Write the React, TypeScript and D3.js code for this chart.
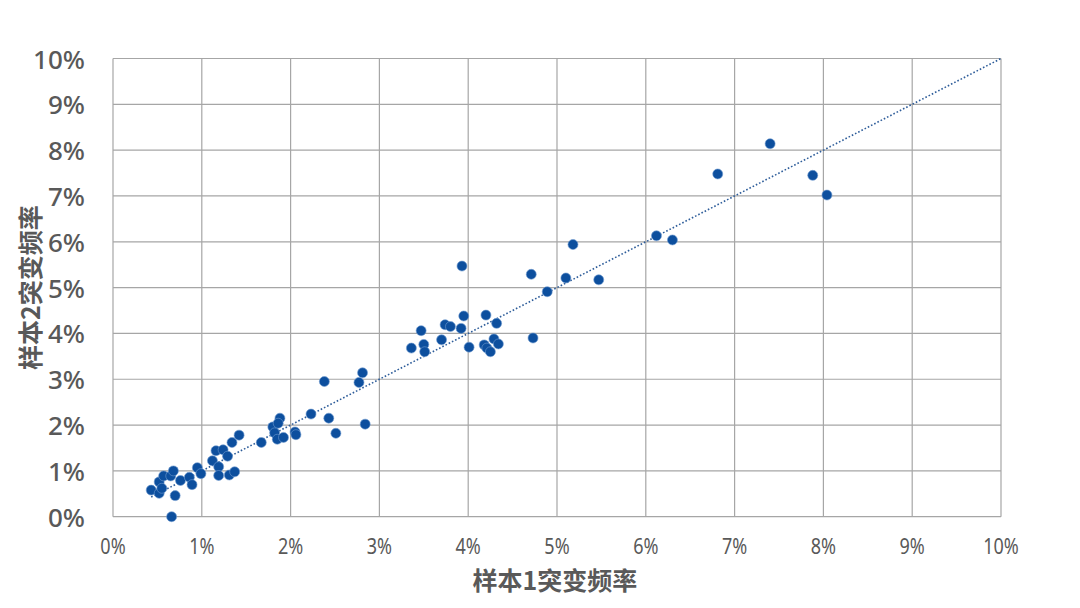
import React from "react";
import * as d3 from "d3";

const sample1: number[] = [
  0.43, 0.52, 0.52, 0.55, 0.57, 0.65, 0.68, 0.7, 0.66, 0.76, 0.86, 0.89, 0.95, 0.99,
  1.12, 1.16, 1.24, 1.29, 1.19, 1.19, 1.31, 1.37, 1.34, 1.42, 1.67, 1.8, 1.88, 1.86,
  1.82, 1.85, 1.92, 2.05, 2.06, 2.23, 2.38, 2.43, 2.51, 2.77, 2.81, 2.84,
  3.36, 3.47, 3.5, 3.51, 3.7, 3.74, 3.8, 3.92, 3.93, 3.95, 4.01, 4.2, 4.32, 4.18,
  4.21, 4.25, 4.29, 4.34, 4.71, 4.73, 4.89, 5.1, 5.18, 5.47, 6.12, 6.3, 6.81, 7.4,
  7.88, 8.04,
];
const sample2: number[] = [
  0.58, 0.76, 0.51, 0.62, 0.89, 0.89, 1.0, 0.46, 0.0, 0.79, 0.86, 0.7, 1.07, 0.94,
  1.22, 1.44, 1.46, 1.32, 1.09, 0.9, 0.91, 0.98, 1.62, 1.78, 1.62, 1.96, 2.15, 2.04,
  1.83, 1.69, 1.73, 1.85, 1.79, 2.24, 2.95, 2.15, 1.82, 2.93, 3.14, 2.02,
  3.68, 4.06, 3.76, 3.6, 3.86, 4.19, 4.15, 4.11, 5.47, 4.38, 3.7, 4.4, 4.22, 3.75,
  3.68, 3.6, 3.88, 3.77, 5.29, 3.9, 4.91, 5.21, 5.94, 5.17, 6.13, 6.04, 7.48, 8.14,
  7.45, 7.02,
];
const ticks: number[] = [0, 1, 2, 3, 4, 5, 6, 7, 8, 9, 10];
const xTitle = "样本1突变频率";
const yTitle = "样本2突变频率";

export default function App() {
  const W = 1080;
  const H = 608;
  const left = 113;
  const right = 1001;
  const top = 58.5;
  const bottom = 516.7;
  const x = d3.scaleLinear().domain([0, 10]).range([left, right]);
  const y = d3.scaleLinear().domain([0, 10]).range([bottom, top]);
  const pts = sample1.map((v, i) => ({ a: v, b: sample2[i] }));
  const minX = d3.min(sample1) as number;
  const line = d3.line<number>().x((d) => x(d)).y((d) => y(d));
  const font = "'Noto Sans', 'Noto Sans CJK SC', sans-serif";
  const cjk = "'Noto Sans CJK SC', sans-serif";
  const txt = "#595959";
  return (
    <svg
      width={W}
      height={H}
      style={{ position: "absolute", left: 0, top: 0, background: "#fff" }}
    >
      <rect x={0} y={0} width={W} height={H} fill="#fff" />
      {ticks.map((t) => (
        <line key={"h" + t} x1={left} x2={right} y1={y(t)} y2={y(t)} stroke="#a6a6a6" strokeWidth={1.2} />
      ))}
      {ticks.map((t) => (
        <line key={"v" + t} x1={x(t)} x2={x(t)} y1={top} y2={bottom} stroke="#a6a6a6" strokeWidth={1.2} />
      ))}
      <path
        d={line([minX, 10]) as string}
        fill="none"
        stroke="#2e5d9a"
        strokeWidth={1.6}
        strokeDasharray="1.6 2"
      />
      {pts.map((p, i) => (
        <circle
          key={i}
          cx={x(p.a)}
          cy={y(p.b)}
          r={5}
          fill="#0d4f9e"
          stroke="#6f9bd0"
          strokeOpacity={0.6}
          strokeWidth={1}
        />
      ))}
      {ticks.map((t) => (
        <text
          key={"yl" + t}
          x={85}
          y={y(t)}
          textAnchor="end"
          dominantBaseline="central"
          fontFamily={font}
          fontSize={26}
          fontWeight={500}
          fill={txt}
        >
          {t + "%"}
        </text>
      ))}
      {ticks.map((t) => (
        <text
          key={"xl" + t}
          x={x(t)}
          y={546}
          textAnchor="middle"
          dominantBaseline="central"
          fontFamily={font}
          fontSize={22}
          fill={txt}
          transform={`translate(${x(t)},0) scale(0.82,1) translate(${-x(t)},0)`}
        >
          {t + "%"}
        </text>
      ))}
      <text
        x={555}
        y={579}
        textAnchor="middle"
        dominantBaseline="central"
        fontFamily={cjk}
        fontSize={25}
        fontWeight={600}
        fill={txt}
      >
        {xTitle}
      </text>
      <text
        transform={`translate(29,${(top + bottom) / 2}) rotate(-90)`}
        textAnchor="middle"
        dominantBaseline="central"
        fontFamily={cjk}
        fontSize={25}
        fontWeight={600}
        fill={txt}
      >
        {yTitle}
      </text>
    </svg>
  );
}
